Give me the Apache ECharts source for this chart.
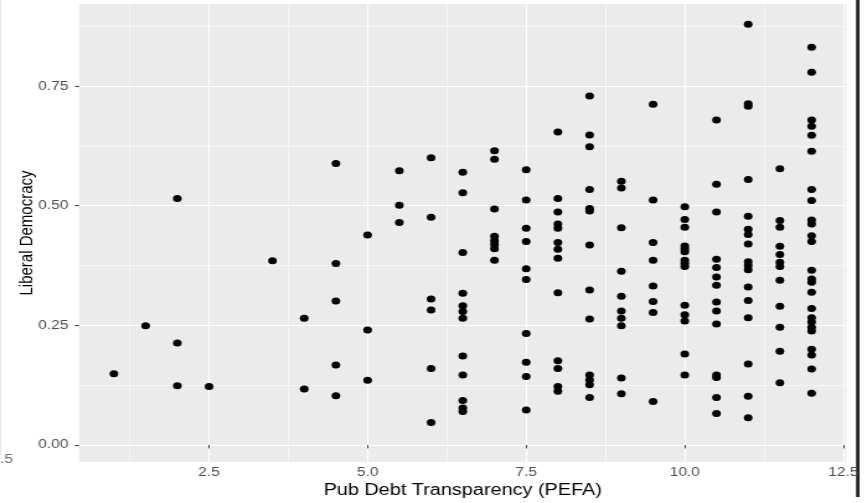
<!DOCTYPE html>
<html>
<head>
<meta charset="utf-8">
<script src="https://cdn.jsdelivr.net/npm/echarts@6/dist/echarts.min.js"></script>
<style>
  html, body { margin: 0; padding: 0; background: #fff; overflow: hidden; }
  /* the reference screenshot is stretched sideways, so the chart is too */
  #chart { width: 699px; height: 503px; transform: scaleX(1.2403); transform-origin: 0 0; }
</style>
</head>
<body>
<div id="chart"></div>
<script>
// PEFA score levels and the liberal democracy values seen at each level
var pefaLevels = [1, 1.5, 2, 2.5, 3.5, 4, 4.5, 5, 5.5, 6, 6.5, 7, 7.5, 8, 8.5, 9, 9.5, 10, 10.5, 11, 11.5, 12];
var libDemByLevel = [
    [0.149],
    [0.249],
    [0.515, 0.213, 0.124],
    [0.122],
    [0.385],
    [0.265, 0.117],
    [0.588, 0.379, 0.301, 0.167, 0.103],
    [0.439, 0.240, 0.135],
    [0.573, 0.501, 0.465],
    [0.600, 0.476, 0.305, 0.282, 0.160, 0.047],
    [0.570, 0.527, 0.402, 0.317, 0.291, 0.279, 0.265, 0.186, 0.146, 0.093, 0.077, 0.070],
    [0.615, 0.597, 0.493, 0.436, 0.427, 0.419, 0.410, 0.386],
    [0.575, 0.512, 0.453, 0.425, 0.368, 0.346, 0.233, 0.173, 0.143, 0.073],
    [0.654, 0.515, 0.487, 0.462, 0.453, 0.423, 0.409, 0.390, 0.318, 0.176, 0.160, 0.122, 0.112],
    [0.729, 0.648, 0.623, 0.534, 0.494, 0.489, 0.418, 0.324, 0.263, 0.146, 0.136, 0.126, 0.099],
    [0.551, 0.537, 0.454, 0.363, 0.311, 0.280, 0.265, 0.249, 0.140, 0.107],
    [0.712, 0.512, 0.423, 0.386, 0.332, 0.300, 0.277, 0.091],
    [0.498, 0.471, 0.455, 0.416, 0.410, 0.404, 0.386, 0.379, 0.373, 0.292, 0.272, 0.259, 0.190, 0.146],
    [0.679, 0.545, 0.487, 0.388, 0.371, 0.351, 0.334, 0.299, 0.280, 0.253, 0.146, 0.141, 0.099, 0.066],
    [0.879, 0.713, 0.708, 0.555, 0.478, 0.451, 0.440, 0.420, 0.383, 0.375, 0.366, 0.330, 0.302, 0.266, 0.169, 0.102, 0.057],
    [0.577, 0.469, 0.455, 0.415, 0.398, 0.382, 0.373, 0.344, 0.290, 0.246, 0.196, 0.130],
    [0.831, 0.779, 0.679, 0.666, 0.647, 0.614, 0.534, 0.511, 0.470, 0.462, 0.437, 0.425, 0.365, 0.347, 0.340, 0.319, 0.285, 0.266, 0.257, 0.246, 0.238, 0.200, 0.188, 0.159, 0.108]
];

var xMajor = [2.5, 5, 7.5, 10, 12.5];
var xMinor = [1.25, 3.75, 6.25, 8.75, 11.25];
var yMajor = [0, 0.25, 0.5, 0.75];
var yMinor = [0.125, 0.375, 0.625, 0.875];

var points = [];
for (var i = 0; i < pefaLevels.length; i++) {
    for (var j = 0; j < libDemByLevel[i].length; j++) {
        points.push([pefaLevels[i], libDemByLevel[i][j]]);
    }
}

var font = 'Liberation Sans, Arial, sans-serif';
var xMin = 0.45, xMax = 12.55, yMin = -0.0356, yMax = 0.9215;

function majorAxis(ticks, fmt, extra) {
    var ax = {
        type: 'value',
        axisLine: { show: false },
        axisTick: { show: true, customValues: ticks, length: 3.5, lineStyle: { color: '#333', width: 0.9 } },
        axisLabel: { show: true, customValues: ticks, formatter: fmt, color: '#4d4d4d', fontSize: 12.5, fontFamily: font },
        splitLine: { show: true, lineStyle: { color: '#fff', width: 1.15 } }
    };
    for (var k in extra) ax[k] = extra[k];
    return ax;
}

function minorAxis(ticks, extra) {
    var ax = {
        type: 'value',
        axisLine: { show: false },
        axisTick: { show: false, customValues: ticks },
        axisLabel: { show: false },
        splitLine: { show: true, lineStyle: { color: '#fff', width: 0.55 } }
    };
    for (var k in extra) ax[k] = extra[k];
    return ax;
}

var chart = echarts.init(document.getElementById('chart'));
chart.setOption({
    animation: false,
    grid: {
        left: 63.7, right: 16.5, top: 4, bottom: 41,
        outerBoundsMode: 'none',
        show: true, backgroundColor: '#ebebeb', borderWidth: 0
    },
    xAxis: [
        majorAxis(xMajor, function (v) { return v.toFixed(1); }, {
            min: xMin, max: xMax, position: 'bottom',
            name: 'Pub Debt Transparency (PEFA)', nameLocation: 'middle', nameGap: 21, nameMoveOverlap: false,
            nameTextStyle: { color: '#000', fontSize: 16, fontFamily: font },
            axisLabel: { show: true, customValues: xMajor, formatter: function (v) { return v.toFixed(1); },
                color: '#4d4d4d', fontSize: 12.5, fontFamily: font, margin: 4.5 }
        }),
        minorAxis(xMinor, { min: xMin, max: xMax, position: 'bottom' })
    ],
    yAxis: [
        majorAxis(yMajor, function (v) { return v.toFixed(2); }, {
            min: yMin, max: yMax, position: 'left',
            name: 'Liberal Democracy', nameLocation: 'middle', nameGap: 34, nameMoveOverlap: false,
            nameTextStyle: { color: '#000', fontSize: 15, fontFamily: font },
            axisTick: { show: true, customValues: yMajor, length: 3.2, lineStyle: { color: '#333', width: 1.1 } },
            axisLabel: { show: true, customValues: yMajor, formatter: function (v) { return v.toFixed(2); },
                color: '#4d4d4d', fontSize: 12.5, fontFamily: font, margin: 8.5 }
        }),
        minorAxis(yMinor, { min: yMin, max: yMax, position: 'left' })
    ],
    graphic: [
        { type: 'rect', shape: { x: 690.2, y: 0, width: 2.8, height: 497 }, style: { fill: '#222' } },
        { type: 'rect', shape: { x: 0, y: 0, width: 0.8, height: 455 }, style: { fill: '#e2e2e2' } },
        { type: 'text', x: 0, y: 460, style: { text: '.5', fill: '#6a6a6a', fontSize: 12.5, fontFamily: font, verticalAlign: 'middle' } }
    ],
    series: [{
        type: 'scatter',
        xAxisIndex: 0,
        yAxisIndex: 0,
        data: points,
        symbolSize: 7,
        itemStyle: { color: '#000', opacity: 1 },
        silent: true
    }]
});
</script>
</body>
</html>
